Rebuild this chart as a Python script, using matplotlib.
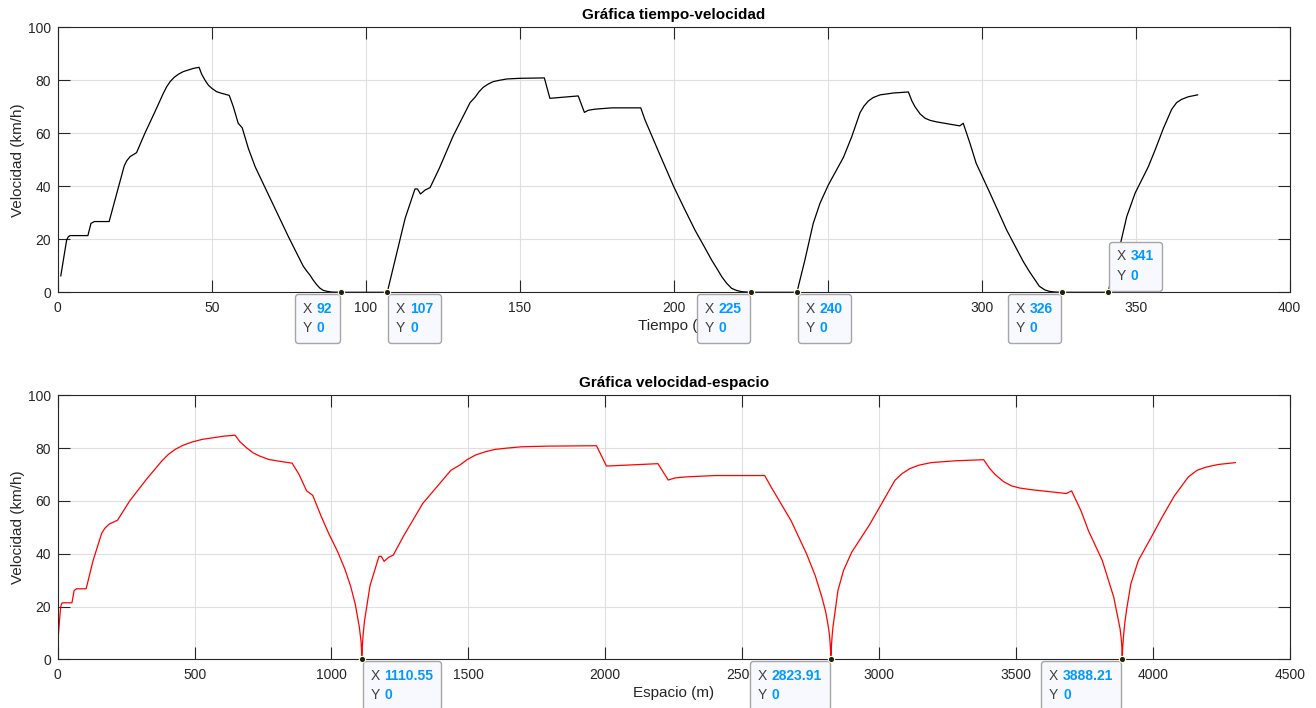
import numpy as np
import matplotlib.pyplot as plt
from matplotlib.offsetbox import AnnotationBbox, HPacker, VPacker, TextArea

plt.rcParams['font.family'] = ['Liberation Sans', 'DejaVu Sans']

# speed log: time (s) and speed (km/h), one leg per line
tiempo = [1, 2.9, 3.4, 4.0, 9.8, 10.8, 11.9, 16.7, 19.2, 21.6, 22.4, 23.5,
          25.6, 28.3, 31.6, 34.3, 35.4, 36.5, 37.8, 39.2, 40.8, 42.4, 44.1,
          45.9, 46.7, 47.8, 48.9, 50.0, 51.6, 53.2, 55.7, 57.0, 58.6, 59.9,
          61.9, 64.1, 66.8, 69.5, 72.2, 74.9, 78.7, 79.7, 80.8, 81.9, 82.9,
          84.0, 85.1, 86.2, 87.3, 88.9, 92,
          107, 108, 109, 110.05, 112.8, 116.0, 116.8, 117.8, 119.3, 120.9,
          123.9, 128.4, 133.9, 135.5, 136.8, 138.2, 139.8, 141.4, 143.4, 145.8,
          150.1, 158.0, 159.8, 169.0, 171.0, 172.3, 174.4, 179.9, 189.3, 190.7,
          195.3, 200.0, 203.4, 206.9, 209.6, 212.3, 213.95, 215.6, 217.2,
          218.8, 220.4, 222.0, 225,
          240, 241, 242, 242.6, 245.3, 247.5, 250.2, 255.1, 257.8, 260.5,
          261.8, 263.2, 264.8, 267.0, 271.3, 276.2, 277.3, 278.3, 280.0, 281.6,
          283.2, 285.4, 292.9, 294.0, 296.2, 298.2, 302.7, 308.1, 313.5, 315.5,
          317.3, 318.7, 320.5, 322.0, 323.8, 326,
          341, 342, 343, 344, 345.2, 347.1, 349.8, 354.1, 356.3, 359.0, 361.7,
          363.3, 364.9, 367.1, 370.1]
velocidad = [6.2, 19.7, 20.9, 21.4, 21.4, 26.0, 26.7, 26.7, 37.4, 47.7, 49.6,
             51.2, 52.7, 60.0, 68.2, 75.1, 77.6, 79.5, 81.1, 82.3, 83.3, 83.9,
             84.5, 84.9, 82.4, 80.1, 78.2, 77.0, 75.7, 75.1, 74.3, 70.1, 63.8,
             62.1, 54.3, 47.4, 40.8, 34.2, 27.6, 21.0, 12.2, 9.9, 8.1, 6.5,
             4.7, 3.0, 1.6, 0.75, 0.4, 0.1, 0,
             0, 4.8, 9.7, 14.7, 27.9, 39.0, 39.0, 37.1, 38.6, 39.5, 46.8, 59.0,
             71.6, 73.6, 75.7, 77.4, 78.6, 79.5, 80.0, 80.5, 80.75, 80.9, 73.2,
             74.1, 67.9, 68.7, 69.1, 69.6, 69.6, 65.0, 52.5, 39.9, 31.7, 23.5,
             17.9, 12.2, 9.1, 5.9, 3.4, 1.5, 0.7, 0.25, 0,
             0, 4.7, 9.4, 12.2, 26.0, 33.6, 40.5, 50.9, 58.7, 67.8, 70.3, 72.2,
             73.5, 74.5, 75.2, 75.6, 72.3, 70.1, 67.3, 65.7, 64.9, 64.3, 62.8,
             63.8, 56.2, 48.7, 37.4, 23.5, 11.6, 7.8, 4.7, 2.3, 0.9, 0.35, 0.1,
             0,
             0, 4.5, 9.0, 13.8, 19.1, 28.6, 37.4, 47.4, 53.7, 61.9, 69.1, 71.6,
             72.8, 73.8, 74.5]

# stops: time when the car stops, time it starts again, distance logged
parada_ini = [92, 225, 326]
parada_fin = [107, 240, 341]
parada_esp = [1110.55, 2823.91, 3888.21]

paso = 1.0  # logger step (s)


def espacio(t, v):
    t = np.asarray(t, float)
    v = np.asarray(v, float) / 3.6
    s = np.concatenate([[0.0], np.cumsum(np.diff(t) * (v[1:] + v[:-1]) / 2)])
    # distance is stored at the end of each logger step
    s = s + v * paso
    s -= s[0]
    # tie each leg to the distance logged at its stop
    s_raw = np.interp(parada_ini, t, s)
    s_adj = np.interp(s, np.r_[0.0, s_raw], np.r_[0.0, parada_esp])
    fin = s > s_raw[-1]
    s_adj[fin] = s[fin] - s_raw[-1] + parada_esp[-1]
    return s_adj


def estilo(ax, xmax, paso_x):
    ax.set_xlim(0, xmax)
    ax.set_ylim(0, 100)
    ax.set_xticks(np.arange(0, xmax + 1, paso_x))
    ax.set_yticks(range(0, 101, 20))
    ax.grid(True, color='#DFDFDF', lw=0.8)
    ax.set_axisbelow(True)
    ax.tick_params(direction='in', length=8.6, width=0.8, top=True,
                   right=True, colors='#262626', labelsize=10)
    ax.tick_params(axis='x', pad=6)
    ax.tick_params(axis='y', pad=5)
    for sp in ax.spines.values():
        sp.set_color('#262626')
        sp.set_linewidth(0.8)


def data_tip(ax, x, y, texto, esquina):
    lbl = dict(color='#404040', fontsize=10)
    val = dict(color='#0099FF', fontsize=10, fontweight='bold')
    fila_x = HPacker(children=[TextArea('X', textprops=lbl),
                               TextArea(texto, textprops=val)],
                     sep=3.5, align='baseline')
    fila_y = HPacker(children=[TextArea('Y', textprops=lbl),
                               TextArea('0', textprops=val)],
                     sep=3.5, align='baseline')
    caja = VPacker(children=[fila_x, fila_y], sep=4, pad=5.5, align='left')
    dx = -0.8 if esquina[0] == 1 else 0.8
    dy = -1.2 if esquina[1] == 1 else 1.2
    ab = AnnotationBbox(caja, (x, y), xybox=(dx, dy),
                        boxcoords='offset points', box_alignment=esquina,
                        pad=0, frameon=True, annotation_clip=False, zorder=10,
                        bboxprops=dict(boxstyle='round,pad=0,rounding_size=0.2',
                                       fc='#F8F8FF', ec='#A6A6A6', lw=1))
    ax.add_artist(ab)
    ax.plot(x, y, 'o', ms=4.5, mfc='#1E1E1E', mec='#FFFFD8', mew=0.8,
            clip_on=False, zorder=11)


dist = espacio(tiempo, velocidad)

fig = plt.figure(figsize=(13.16, 7.08), dpi=100)
ax1 = fig.add_axes([57.7 / 1316, (708 - 292.3) / 708, 1232 / 1316, 265 / 708])
ax2 = fig.add_axes([57.7 / 1316, (708 - 659.3) / 708, 1232 / 1316, 264 / 708])

# time - speed
ax1.plot(tiempo, velocidad, color='black', lw=0.9)
estilo(ax1, 400, 50)
ax1.set_title('Gráfica tiempo-velocidad', fontsize=11, fontweight='bold', pad=6)
ax1.set_xlabel('Tiempo (s)', fontsize=11, color='#262626', labelpad=3)
ax1.set_ylabel('Velocidad (km/h)', fontsize=11, color='#262626', labelpad=2)

tips_t = sorted(parada_ini + parada_fin)
esquinas_t = [(1, 1), (0, 1), (1, 1), (0, 1), (1, 1), (0, 0)]
for tp, esq in zip(tips_t, esquinas_t):
    data_tip(ax1, tp, 0, f'{tp:g}', esq)

# speed - distance
ax2.plot(dist, velocidad, color='red', lw=0.9)
estilo(ax2, 4500, 500)
ax2.set_title('Gráfica velocidad-espacio', fontsize=11, fontweight='bold', pad=6)
ax2.set_xlabel('Espacio (m)', fontsize=11, color='#262626', labelpad=3)
ax2.set_ylabel('Velocidad (km/h)', fontsize=11, color='#262626', labelpad=2)

for s_tip, esq in zip(parada_esp, [(0, 1), (1, 1), (1, 1)]):
    data_tip(ax2, s_tip, 0, f'{s_tip:.2f}', esq)

fig.savefig('out.png', dpi=100)
